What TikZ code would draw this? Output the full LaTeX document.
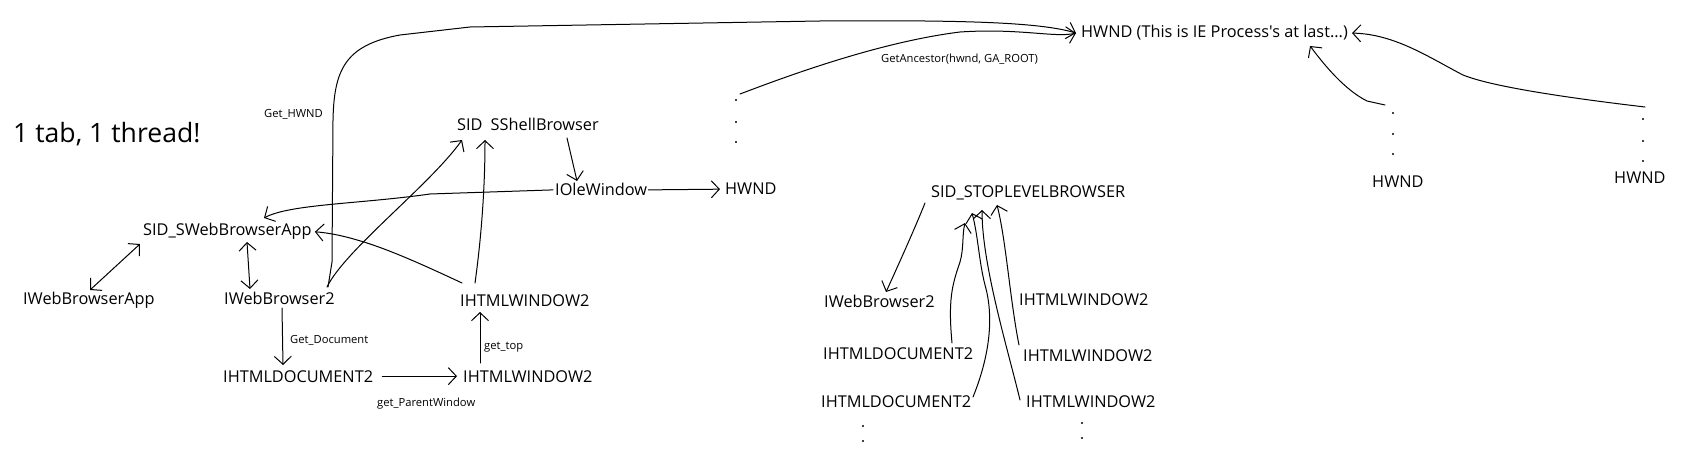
\documentclass[tikz,border=0pt]{standalone}
\usepackage{fontspec}
\setmainfont{Open Sans}[Ligatures=TeXOff]
\usepackage{tikz}
\usetikzlibrary{shapes,arrows,arrows.meta,positioning}

\newcommand{\boxfont}{\fontsize{16.3}{18}\selectfont}
\newcommand{\callfont}{\fontsize{11.2}{13}\selectfont}

\begin{document}
\begin{tikzpicture}[x=1pt,y=-1pt,
      iface/.style={anchor=base west,inner sep=0pt,font=\boxfont},
      call/.style={anchor=base west,inner sep=0pt,font=\callfont},
      pen/.style={line width=1pt,line cap=round,line join=round},
      arr/.style={pen,-{Straight Barb[length=8pt,width=17pt]}},
      darr/.style={pen,{Straight Barb[length=8pt,width=17pt]}-{Straight Barb[length=8pt,width=17pt]}}]
      \fill[white] (0,0) rectangle (1696,470);

      \node[anchor=base west,inner sep=0pt,font=\fontsize{26.6}{30}\selectfont] (title) at (13,143) {1 tab, 1 thread!};

      \node[call] (gethwnd) at (264,118) {Get\_HWND};
      \node[iface] (shell) at (457,131) {SID\enspace SShellBrowser};
      \node[iface] (olewin) at (555,196) {IOleWindow};
      \node[iface] (hwnd) at (725,195) {HWND};
      \node[iface] (appsid) at (143,236) {SID\_SWebBrowserApp};
      \node[iface] (webapp) at (23,304) {IWebBrowserApp};
      \node[iface] (web) at (224,304) {IWebBrowser2};
      \node[iface] (wintop) at (460,306) {IHTMLWINDOW2};
      \node[call] (getdoc) at (290,343) {Get\_Document};
      \node[call] (gettop) at (484,349) {get\_top};
      \node[iface] (doc) at (223,382) {IHTMLDOCUMENT2};
      \node[iface] (win) at (463,382) {IHTMLWINDOW2};
      \node[call] (getparent) at (377,406) {get\_ParentWindow};

      \node[iface] (iehwnd) at (1081,38) {HWND (This is IE Process's at last...)};
      \node[call] (getanc) at (881,63) {GetAncestor(hwnd, GA\_ROOT)};
      \node[iface] (hwnda) at (1372,188) {HWND};
      \node[iface] (hwndb) at (1614,184) {HWND};

      \node[iface] (toplevel) at (931,198) {SID\_STOPLEVELBROWSER};
      \node[iface] (webr) at (824,307) {IWebBrowser2};
      \node[iface] (winr1) at (1019,305) {IHTMLWINDOW2};
      \node[iface] (docr1) at (823,359) {IHTMLDOCUMENT2};
      \node[iface] (winr2) at (1023,361) {IHTMLWINDOW2};
      \node[iface] (docr2) at (821,407) {IHTMLDOCUMENT2};
      \node[iface] (winr3) at (1026,407) {IHTMLWINDOW2};

      \foreach \y in {100,122,142} \fill (736,\y) circle (1.1pt);
      \foreach \y in {113,134,154} \fill (1393,\y) circle (1.1pt);
      \foreach \y in {119,141,161} \fill (1643,\y) circle (1.1pt);
      \foreach \y in {426,441} \fill (863,\y) circle (1.1pt);
      \foreach \y in {423,438} \fill (1082,\y) circle (1.1pt);

      \coordinate (ancstart) at (740,94);
      \coordinate (hwndatail) at (1385,105);
      \coordinate (hwndbtail) at (1645,107);

      \draw[arr] ([xshift=104pt,yshift=17pt]web.base west) -- (332,262) -- (333,120)
        .. controls (334,70) and (345,45) .. (400,35) -- (470,27) -- (820,21)
        .. controls (960,20) and (1040,22) .. ([xshift=-5pt]iehwnd.west);
      \draw[arr] (ancstart) .. controls (790,75) and (880,42) .. (960,32)
        .. controls (1020,28) and (1055,38) .. ([xshift=-5pt]iehwnd.west);
      \draw[arr] (hwndatail) -- (1367,101) .. controls (1345,90) and (1325,66) .. ([xshift=-38pt,yshift=-8pt]iehwnd.base east);
      \draw[arr] (hwndbtail) .. controls (1560,97) and (1490,86) .. (1463,75)
        .. controls (1430,58) and (1395,34) .. ([xshift=4pt]iehwnd.east);

      \draw[arr] ([xshift=110pt,yshift=-7pt]shell.base west) -- ([xshift=22pt,yshift=15pt]olewin.base west);
      \draw[arr] ([xshift=1pt]olewin.east) -- ([xshift=-5pt]hwnd.west);
      \draw[arr] ([xshift=-2pt]olewin.west) -- (430,194) .. controls (360,204) and (290,204) .. ([xshift=121pt,yshift=18pt]appsid.base west);
      \draw[arr] ([xshift=2pt,yshift=23pt]wintop.base west) .. controls (430,268) and (395,252) .. (367,243)
        .. controls (345,236) and (330,233) .. ([xshift=3pt]appsid.east);
      \draw[arr] ([xshift=103pt,yshift=17pt]web.base west) .. controls (345,250) and (430,185) .. ([xshift=5pt,yshift=-9pt]shell.base west);
      \draw[arr] ([xshift=15pt,yshift=23pt]wintop.base west) .. controls (481,240) and (485,190) .. ([xshift=28pt,yshift=-9pt]shell.base west);
      \draw[darr] ([xshift=-3pt,yshift=-8pt]appsid.base west) -- ([xshift=67pt,yshift=14pt]webapp.base west);
      \draw[darr] ([xshift=104pt,yshift=-6pt]appsid.base west) -- ([xshift=26pt,yshift=15pt]web.base west);
      \draw[arr] ([xshift=58pt,yshift=-4pt]web.base west) -- ([xshift=60pt,yshift=17pt]doc.base west);
      \draw[arr] ([xshift=9pt]doc.east) -- ([xshift=-6pt]win.west);
      \draw[arr] ([xshift=17pt,yshift=19pt]win.base west) -- ([xshift=20pt,yshift=-6pt]wintop.base west);

      \draw[arr] ([xshift=-6pt,yshift=-5pt]toplevel.base west) .. controls (915,228) and (897,268) .. ([xshift=62pt,yshift=15pt]webr.base west);
      \draw[arr] ([xshift=129pt,yshift=16pt]docr1.base west) .. controls (948,300) and (952,285) .. (960,262)
        .. controls (964,248) and (962,235) .. ([xshift=34pt,yshift=-25pt]toplevel.base west);
      \draw[arr] ([xshift=152pt,yshift=10pt]docr2.base west) .. controls (988,360) and (995,320) .. (985,285)
        .. controls (979,262) and (978,235) .. ([xshift=41pt,yshift=-15pt]toplevel.base west);
      \draw[arr] ([xshift=-6pt,yshift=7pt]winr3.base west) .. controls (1008,350) and (982,265) .. ([xshift=51pt,yshift=-12pt]toplevel.base west);
      \draw[arr] ([xshift=-4pt,yshift=16pt]winr2.base west) .. controls (1010,300) and (1006,240) .. ([xshift=66pt,yshift=-7pt]toplevel.base west);
    \end{tikzpicture}
\end{document}
